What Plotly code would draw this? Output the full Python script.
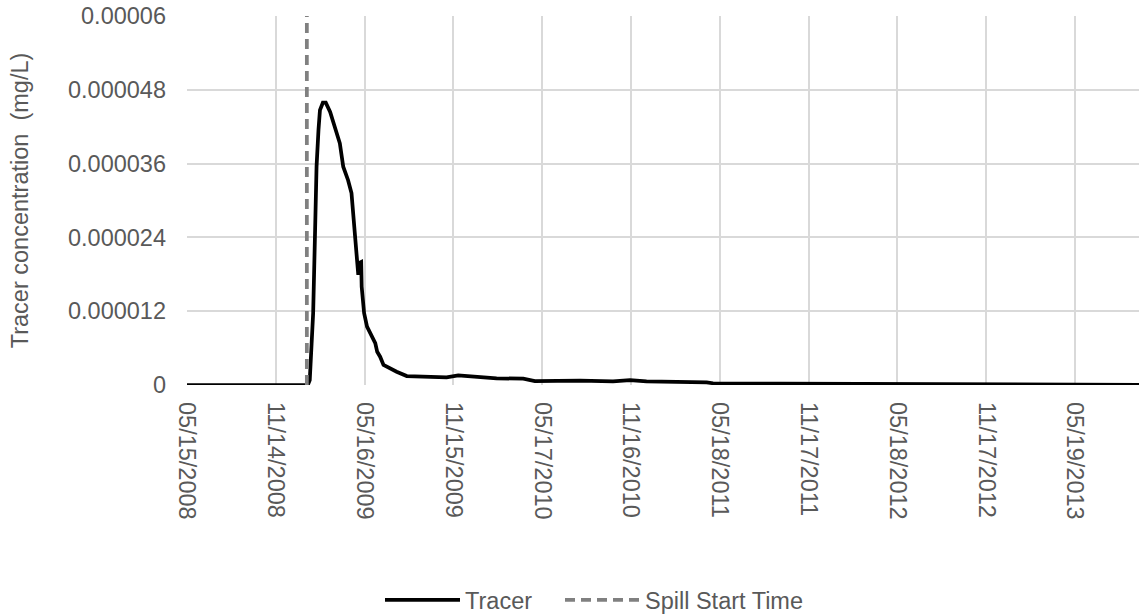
import datetime as dt
import plotly.graph_objects as go

# ---- data ----
tracer_dates = [
    "2008-05-15", "2009-01-19", "2009-01-23", "2009-01-30", "2009-02-03", "2009-02-06",
    "2009-02-10", "2009-02-13", "2009-02-19", "2009-02-25", "2009-03-06", "2009-03-13",
    "2009-03-26", "2009-04-02", "2009-04-12", "2009-04-19", "2009-04-24", "2009-04-30",
    "2009-05-03", "2009-05-04", "2009-05-09", "2009-05-10", "2009-05-15", "2009-05-21",
    "2009-05-31", "2009-06-07", "2009-06-11", "2009-06-17", "2009-06-24", "2009-07-07",
    "2009-07-21", "2009-08-11", "2009-09-28", "2009-11-01", "2009-11-25", "2009-12-25",
    "2010-02-12", "2010-04-08", "2010-05-02", "2010-08-03", "2010-10-10", "2010-11-14",
    "2010-12-18", "2011-04-21", "2011-05-04", "2011-09-19", "2012-02-10", "2012-05-23",
    "2012-12-15", "2013-09-28",
]
tracer_values = [
    0.0, 0.0, 0.81e-6, 1.171e-5, 2.52e-5, 3.55e-5,
    4.15e-5, 4.47e-5, 4.59e-5, 4.59e-5, 4.44e-5, 4.26e-5,
    3.93e-5, 3.55e-5, 3.33e-5, 3.12e-5, 2.68e-5, 2.14e-5,
    1.79e-5, 1.98e-5, 2.00e-5, 1.60e-5, 1.17e-5, 9.5e-6,
    7.85e-6, 6.8e-6, 5.4e-6, 4.6e-6, 3.25e-6, 2.7e-6,
    2.16e-6, 1.46e-6, 1.35e-6, 1.25e-6, 1.58e-6, 1.35e-6,
    1.09e-6, 1.02e-6, 0.65e-6, 0.70e-6, 0.60e-6, 0.81e-6,
    0.60e-6, 0.44e-6, 0.28e-6, 0.21e-6, 0.16e-6, 0.08e-6,
    0.05e-6, 0.02e-6,
]
spill_dates = ["2009-01-17", "2009-01-17"]
spill_values = [0.0, 0.00006]

x_tick_dates = ["2008-05-15", "2008-11-14", "2009-05-16", "2009-11-15", "2010-05-17",
                "2010-11-16", "2011-05-18", "2011-11-17", "2012-05-18", "2012-11-17",
                "2013-05-19"]
y_tick_values = [0, 0.000012, 0.000024, 0.000036, 0.000048, 0.00006]
y_tick_labels = ["0", "0.000012", "0.000024", "0.000036", "0.000048", "0.00006"]

x_start = "2008-05-15"
x_end = (dt.date(2008, 5, 15) + dt.timedelta(days=1962)).isoformat()

FONT = "Liberation Sans, Arial, sans-serif"
GREY_TXT = "#595959"
GRID = "#d9d9d9"

W, H = 1139, 615

fig = go.Figure()
fig.add_trace(go.Scatter(
    x=tracer_dates, y=tracer_values, mode="lines", name="Tracer",
    line=dict(color="black", width=3.75), legend="legend",
))
fig.add_trace(go.Scatter(
    x=spill_dates, y=spill_values, mode="lines", name="Spill Start Time",
    line=dict(color="#808080", width=3.75, dash="10px,6px"), legend="legend2",
))

legend_common = dict(orientation="h", xref="container", xanchor="left",
                     yref="container", y=15 / H, yanchor="middle",
                     font=dict(size=23.5, color=GREY_TXT), bgcolor="rgba(0,0,0,0)",
                     itemwidth=75)

fig.update_layout(
    width=W, height=H,
    margin=dict(l=187, r=0, t=16, b=230),
    paper_bgcolor="white", plot_bgcolor="white",
    font=dict(family=FONT, size=23.5, color=GREY_TXT),
    showlegend=True,
    legend=dict(x=380 / W, **legend_common),
    legend2=dict(x=560 / W, **legend_common),
    xaxis=dict(
        type="date", range=[x_start, x_end], automargin=False,
        tickvals=x_tick_dates, tickformat="%m/%d/%Y", tickangle=90,
        showgrid=True, gridcolor=GRID, gridwidth=1.5,
        showline=False, zeroline=False, ticks="", ticklabelstandoff=16,
        ticklabeloverflow="allow",
        tickfont=dict(size=23.5, color=GREY_TXT),
    ),
    yaxis=dict(
        range=[0, 0.00006], tickvals=y_tick_values, ticktext=y_tick_labels,
        automargin=False, ticklabeloverflow="allow",
        showgrid=True, gridcolor=GRID, gridwidth=1.5,
        showline=False, zeroline=False, ticks="", ticklabelstandoff=20,
        tickfont=dict(size=23.5, color=GREY_TXT),
        title=dict(text="Tracer concentration  (mg/L)", standoff=32,
                   font=dict(size=23.5, color=GREY_TXT)),
    ),
)

# remove the browser's default 8px body margin so the figure fills the window
fig.write_html("out.html", config={"displayModeBar": False},
               post_script="document.body.style.margin='0';")
